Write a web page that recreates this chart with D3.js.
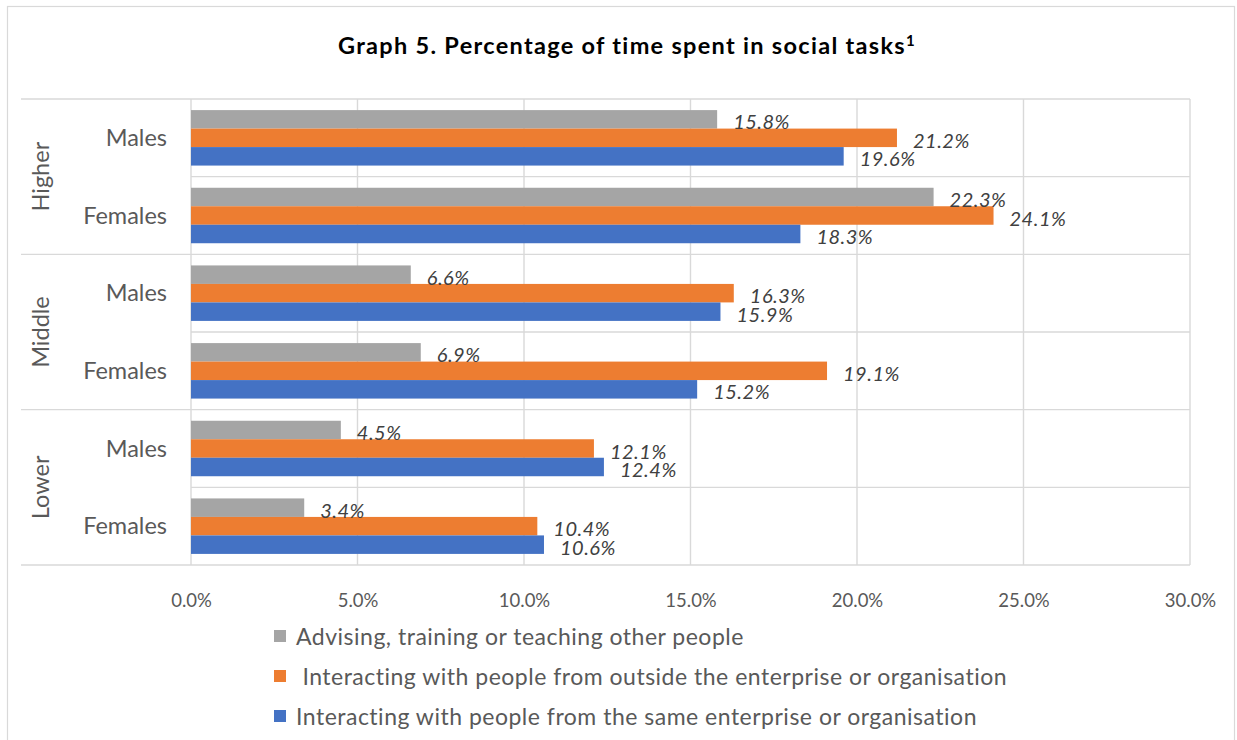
<!DOCTYPE html>
<html>
<head>
<meta charset="utf-8">
<script src="https://cdn.jsdelivr.net/npm/d3@7/dist/d3.min.js"></script>
<style>
  html, body { margin: 0; padding: 0; background: #fff; }
  svg { display: block; font-family: Lato, "Noto Sans", sans-serif; }
</style>
</head>
<body>
<svg id="chart" width="1237" height="740"></svg>
<script>
// Education levels (outer category) and sexes (inner category)
const groups = ["Higher", "Middle", "Lower"];
const sexes = ["Males", "Females"];

// Series labels, top bar to bottom bar within each category
const series = [
  "Advising, training or teaching other people",
  " Interacting with people from outside the enterprise or organisation",
  "Interacting with people from the same enterprise or organisation"
];
const colors = ["#A5A5A5", "#ED7D31", "#4472C4"];

// Percent values per category row: Higher M, Higher F, Middle M, Middle F, Lower M, Lower F
const advising = [15.8, 22.3, 6.6, 6.9, 4.5, 3.4];
const outside  = [21.2, 24.1, 16.3, 19.1, 12.1, 10.4];
const same     = [19.6, 18.3, 15.9, 15.2, 12.4, 10.6];
const values = [advising, outside, same];

const xTicks = [0, 5, 10, 15, 20, 25, 30];

const svg = d3.select("#chart");
const gridColor = "#D9D9D9";
const textColor = "#595959";

// chart frame
svg.append("rect")
  .attr("x", 7.5).attr("y", 6.5)
  .attr("width", 1227).attr("height", 760)
  .attr("fill", "none").attr("stroke", gridColor).attr("stroke-width", 1.2);

// title
const title = svg.append("text")
  .attr("x", 627).attr("y", 54)
  .attr("text-anchor", "middle")
  .attr("font-size", 23.5).attr("font-weight", 700)
  .attr("letter-spacing", 1.3)
  .attr("fill", "#000");
title.append("tspan").text("Graph 5. Percentage of time spent in social tasks");
title.append("tspan").attr("dy", -8).attr("font-size", 15).text("1");

// plot bounds and scales
const plotLeft = 191, plotRight = 1190, plotTop = 99, plotBottom = 565;
const x = d3.scaleLinear().domain([0, 30]).range([plotLeft, plotRight]);

const rows = [];
groups.forEach(g => sexes.forEach(s => rows.push(g + "|" + s)));
const y = d3.scaleBand().domain(rows).range([plotTop, plotBottom]).padding(0);
const yInner = d3.scaleBand().domain(d3.range(series.length))
  .range([0, y.bandwidth()]).paddingInner(0).paddingOuter(0.6);

// vertical gridlines
svg.append("g").selectAll("line").data(xTicks).join("line")
  .attr("x1", d => x(d)).attr("x2", d => x(d))
  .attr("y1", plotTop).attr("y2", plotBottom)
  .attr("stroke", gridColor).attr("stroke-width", 1.4);

// horizontal separators between categories; group boundaries run into the label area
const boundaries = d3.range(rows.length + 1);
svg.append("g").selectAll("line").data(boundaries).join("line")
  .attr("x1", i => (i % sexes.length === 0) ? 21 : plotLeft)
  .attr("x2", plotRight)
  .attr("y1", i => plotTop + i * y.step())
  .attr("y2", i => plotTop + i * y.step())
  .attr("stroke", gridColor).attr("stroke-width", 1.4);

// bars
const barData = [];
rows.forEach((r, ri) => series.forEach((s, si) => {
  barData.push({ row: r, si: si, v: values[si][ri] });
}));

svg.append("g").selectAll("rect").data(barData).join("rect")
  .attr("x", x(0))
  .attr("y", d => y(d.row) + yInner(d.si))
  .attr("width", d => x(d.v) - x(0))
  .attr("height", yInner.bandwidth())
  .attr("fill", d => colors[d.si]);

// value labels
svg.append("g").selectAll("text").data(barData).join("text")
  .attr("x", d => x(d.v) + 16)
  .attr("y", d => y(d.row) + yInner(d.si) + yInner.bandwidth() / 2 + 2)
  .attr("dominant-baseline", "central")
  .attr("font-size", 20).attr("font-style", "italic")
  .attr("letter-spacing", 0.5)
  .attr("fill", "#404040")
  .text(d => d.v.toFixed(1) + "%");

// x axis tick labels
const xAxis = d3.axisBottom(x).tickValues(xTicks)
  .tickFormat(d => d3.format(".1%")(d / 100)).tickSize(0).tickPadding(0);
const gx = svg.append("g").attr("transform", `translate(0,${plotBottom + 42})`).call(xAxis);
gx.select(".domain").remove();
gx.selectAll("text")
  .attr("dy", 0).attr("y", 0)
  .attr("font-family", "Lato, 'Noto Sans', sans-serif")
  .attr("font-size", 18.5).attr("fill", textColor);

// inner category labels
svg.append("g").selectAll("text").data(rows).join("text")
  .attr("x", 167)
  .attr("y", r => y(r) + y.bandwidth() / 2 + 8)
  .attr("text-anchor", "end")
  .attr("font-size", 23.5).attr("fill", textColor)
  .text(r => r.split("|")[1]);

// outer group labels, rotated
svg.append("g").selectAll("text").data(groups).join("text")
  .attr("transform", g => {
    const cy = y(g + "|" + sexes[0]) + y.step() * sexes.length / 2;
    return `translate(49,${cy}) rotate(-90)`;
  })
  .attr("text-anchor", "middle")
  .attr("font-size", 23.5).attr("fill", textColor)
  .text(g => g);

// legend
const legend = svg.append("g").selectAll("g").data(series).join("g")
  .attr("transform", (d, i) => `translate(274,${636 + i * 40})`);
legend.append("rect")
  .attr("x", 0).attr("y", -6).attr("width", 12).attr("height", 12)
  .attr("fill", (d, i) => colors[i]);
legend.append("text")
  .attr("x", 22).attr("y", 9)
  .attr("font-size", 23).attr("letter-spacing", 0.5).attr("fill", textColor)
  .style("white-space", "pre")
  .text(d => d);
</script>
</body>
</html>
